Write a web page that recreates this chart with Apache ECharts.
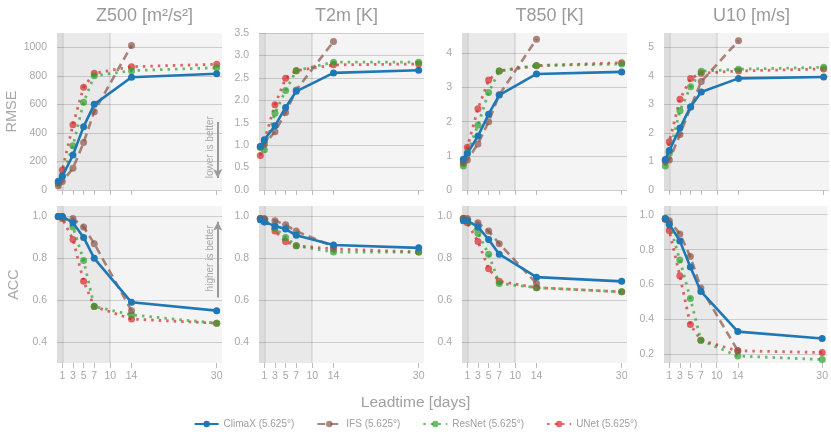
<!DOCTYPE html>
<html>
<head>
<meta charset="utf-8">
<script src="https://cdn.jsdelivr.net/npm/echarts@6/dist/echarts.min.js"></script>
<style>html,body{margin:0;padding:0;background:#fff;}#c{width:831px;height:438px;}</style>
</head>
<body>
<div id="c"></div>
<script>
// ---------- data ----------
const leadDays = [0.25, 1, 3, 5, 7, 14, 30];
const ifsDays = [0.25, 1, 3, 5, 7, 14];
const xTickValues = [1, 3, 5, 7, 10, 14, 30];
const panelTitles = ['Z500 [m²/s²]', 'T2m [K]', 'T850 [K]', 'U10 [m/s]'];
const modelNames = ['ClimaX (5.625°)', 'IFS (5.625°)', 'ResNet (5.625°)', 'UNet (5.625°)'];

// RMSE
const rmseZ500Climax = [62, 96, 245, 444, 600, 790, 815];
const rmseZ500Ifs = [30, 60, 152, 332, 549, 1012];
const rmseZ500Resnet = [45, 100, 310, 614, 800, 836, 857];
const rmseZ500Unet = [55, 140, 458, 720, 818, 864, 881];

const rmseT2mClimax = [0.97, 1.12, 1.43, 1.84, 2.20, 2.61, 2.67];
const rmseT2mIfs = [0.97, 1.02, 1.30, 1.73, 2.23, 3.31];
const rmseT2mResnet = [0.95, 0.90, 1.71, 2.22, 2.66, 2.85, 2.85];
const rmseT2mUnet = [0.77, 1.10, 1.90, 2.49, 2.66, 2.79, 2.81];

const rmseT850Climax = [0.90, 1.07, 1.58, 2.22, 2.78, 3.40, 3.46];
const rmseT850Ifs = [0.83, 0.88, 1.35, 2.00, 2.79, 4.42];
const rmseT850Resnet = [0.70, 1.09, 1.90, 2.86, 3.49, 3.65, 3.69];
const rmseT850Unet = [0.78, 1.25, 2.38, 3.22, 3.49, 3.64, 3.73];

const rmseU10Climax = [1.07, 1.38, 2.17, 2.92, 3.43, 3.91, 3.96];
const rmseU10Ifs = [1.00, 1.05, 1.94, 2.90, 3.80, 5.23];
const rmseU10Resnet = [0.84, 1.29, 2.78, 3.62, 4.16, 4.23, 4.30];
const rmseU10Unet = [1.03, 1.69, 3.18, 3.91, 4.09, 4.17, 4.24];

// ACC
const accZ500Climax = [1.0, 1.0, 0.97, 0.90, 0.80, 0.59, 0.55];
const accZ500Ifs = [1.0, 0.995, 0.99, 0.95, 0.87, 0.55];
const accZ500Resnet = [1.0, 1.0, 0.95, 0.79, 0.57, 0.53, 0.49];
const accZ500Unet = [1.0, 0.99, 0.89, 0.69, 0.57, 0.51, 0.49];

const accT2mClimax = [0.984, 0.973, 0.955, 0.94, 0.91, 0.864, 0.85];
const accT2mIfs = [0.99, 0.99, 0.98, 0.96, 0.93, 0.856];
const accT2mResnet = [0.99, 0.985, 0.945, 0.90, 0.86, 0.83, 0.83];
const accT2mUnet = [0.99, 0.98, 0.93, 0.88, 0.86, 0.845, 0.83];

const accT850Climax = [0.98, 0.98, 0.95, 0.89, 0.82, 0.71, 0.69];
const accT850Ifs = [0.99, 0.99, 0.97, 0.93, 0.87, 0.68];
const accT850Resnet = [0.99, 0.98, 0.92, 0.82, 0.68, 0.66, 0.64];
const accT850Unet = [0.99, 0.97, 0.88, 0.75, 0.69, 0.66, 0.64];

const accU10Climax = [0.977, 0.946, 0.85, 0.70, 0.56, 0.33, 0.29];
const accU10Ifs = [0.977, 0.966, 0.89, 0.76, 0.58, 0.22];
const accU10Resnet = [0.98, 0.95, 0.74, 0.52, 0.28, 0.19, 0.17];
const accU10Unet = [0.973, 0.91, 0.65, 0.37, 0.28, 0.22, 0.21];

// ---------- layout / styling ----------
const panelData = [
  [rmseZ500Climax, rmseZ500Ifs, rmseZ500Resnet, rmseZ500Unet],
  [rmseT2mClimax, rmseT2mIfs, rmseT2mResnet, rmseT2mUnet],
  [rmseT850Climax, rmseT850Ifs, rmseT850Resnet, rmseT850Unet],
  [rmseU10Climax, rmseU10Ifs, rmseU10Resnet, rmseU10Unet],
  [accZ500Climax, accZ500Ifs, accZ500Resnet, accZ500Unet],
  [accT2mClimax, accT2mIfs, accT2mResnet, accT2mUnet],
  [accT850Climax, accT850Ifs, accT850Resnet, accT850Unet],
  [accU10Climax, accU10Ifs, accU10Resnet, accU10Unet]
];
const yRanges = [
  {min: 0, max: 1100, interval: 200, dec: 0},
  {min: 0, max: 3.5, interval: 0.5, dec: 1},
  {min: 0, max: 4.6, interval: 1, dec: 0},
  {min: 0, max: 5.5, interval: 1, dec: 0},
  {min: 0.3, max: 1.05, split: 4, dec: 1},
  {min: 0.3, max: 1.05, split: 4, dec: 1},
  {min: 0.3, max: 1.05, split: 4, dec: 1},
  {min: 0.15, max: 1.05, split: 4, dec: 1}
];
const lefts = [57, 259, 462, 664];
const W = 165, H = 157;
const tops = [33, 206];
const FONT = 'Liberation Sans, Arial, sans-serif';
const GRAY = '#a8a8a8';

const styles = [
  {color: '#1f77b4', type: 'solid', width: 2.6, opacity: 1, z: 6},
  {color: '#8c564b', type: [8, 5], width: 2.6, opacity: 0.72, z: 5},
  {color: '#2ca02c', type: [2.5, 5], width: 2.8, opacity: 0.7, z: 4},
  {color: '#d62728', type: [2.5, 5], width: 2.8, opacity: 0.7, z: 3}
];

const grids = [], xAxes = [], yAxes = [], series = [];
for (let g = 0; g < 8; g++) {
  const col = g % 4, row = Math.floor(g / 4);
  grids.push({left: lefts[col], top: tops[row], width: W, height: H, show: true,
    backgroundColor: '#f4f4f4', borderWidth: 0, containLabel: false});
  xAxes.push({
    type: 'value', gridIndex: g, min: 0, max: 31,
    axisLine: {show: false},
    splitLine: {show: false},
    axisTick: {show: true, customValues: xTickValues, length: 5, lineStyle: {color: '#bdbdbd', width: 1}},
    axisLabel: {show: row === 1, customValues: xTickValues, color: GRAY, fontSize: 10.5, margin: 8, fontFamily: FONT}
  });
  const yr = yRanges[g];
  const ya = {
    type: 'value', gridIndex: g, min: yr.min, max: yr.max,
    axisLine: {show: false}, axisTick: {show: false},
    axisLabel: {color: GRAY, fontSize: 10.5, margin: 10, fontFamily: FONT,
      showMaxLabel: false, showMinLabel: row === 0,
      formatter: v => Number(v).toFixed(yr.dec)},
    splitLine: {show: true, showMaxLine: false, showMinLine: row === 0,
      lineStyle: {color: '#cdcdcd', width: 1}}
  };
  if (yr.interval) ya.interval = yr.interval; else ya.splitNumber = yr.split;
  if (g === 1) { ya.axisLabel.showMaxLabel = true; ya.splitLine.showMaxLine = true; }
  if (col === 0) {
    ya.name = row === 0 ? 'RMSE' : 'ACC';
    ya.nameLocation = 'middle';
    ya.nameGap = 36;
    ya.nameTextStyle = {color: GRAY, fontSize: 14.5, fontFamily: FONT};
  }
  yAxes.push(ya);

  // shaded lead-time bands and reference lines
  const band = {
    type: 'line', xAxisIndex: g, yAxisIndex: g, data: [], z: 1, silent: true,
    markArea: {silent: true, data: [
      [{xAxis: 0, itemStyle: {color: 'rgba(0,0,0,0.045)'}}, {xAxis: 10}],
      [{xAxis: 0, itemStyle: {color: 'rgba(0,0,0,0.055)'}}, {xAxis: 1}]
    ]},
    markLine: {silent: true, symbol: 'none', label: {show: false},
      lineStyle: {color: 'rgba(0,0,0,0.10)', width: 1.5, type: 'solid'},
      data: [{xAxis: 1}, {xAxis: 10}]}
  };
  if (g === 0) {
    band.markLine.data.push([
      {coord: [30.2, 476], symbol: 'none', lineStyle: {color: '#9a9a9a', width: 2}},
      {coord: [30.2, 84], symbol: 'arrow', symbolSize: [7, 9]}
    ]);
    band.markPoint = {silent: true, symbol: 'circle', symbolSize: 0,
      data: [{coord: [28.7, 300], label: {show: true, formatter: 'lower is better', rotate: 90,
        color: GRAY, fontSize: 10, fontFamily: FONT, position: 'inside'}}]};
  }
  if (g === 4) {
    band.markLine.data.push([
      {coord: [30.2, 0.613], symbol: 'none', lineStyle: {color: '#9a9a9a', width: 2}},
      {coord: [30.2, 0.975], symbol: 'arrow', symbolSize: [7, 9]}
    ]);
    band.markPoint = {silent: true, symbol: 'circle', symbolSize: 0,
      data: [{coord: [28.7, 0.80], label: {show: true, formatter: 'higher is better', rotate: 90,
        color: GRAY, fontSize: 10, fontFamily: FONT, position: 'inside'}}]};
  }
  series.push(band);

  for (let m = 0; m < 4; m++) {
    const vals = panelData[g][m];
    const days = m === 1 ? ifsDays : leadDays;
    const st = styles[m];
    series.push({
      type: 'line', name: modelNames[m], xAxisIndex: g, yAxisIndex: g, z: st.z,
      data: vals.map((v, i) => [days[i], v]),
      symbol: 'circle', symbolSize: 7, showSymbol: true,
      lineStyle: {color: st.color, width: st.width, type: st.type, opacity: st.opacity, cap: 'butt'},
      itemStyle: {color: st.color, opacity: st.opacity},
      emphasis: {disabled: true}
    });
  }
}

const titles = panelTitles.map((t, i) => ({
  text: t, left: lefts[i] + W / 2, top: 2, textAlign: 'center',
  textStyle: {color: '#9a9a9a', fontSize: 18, fontWeight: 'normal', fontFamily: FONT}
}));
titles.push({text: 'Leadtime [days]', left: 'center', top: 390,
  textStyle: {color: '#a0a0a0', fontSize: 15.5, fontWeight: 'normal', fontFamily: FONT}});

const chart = echarts.init(document.getElementById('c'), null, {renderer: 'canvas'});
chart.setOption({
  animation: false,
  backgroundColor: '#ffffff',
  title: titles,
  grid: grids,
  xAxis: xAxes,
  yAxis: yAxes,
  legend: {
    data: modelNames, bottom: 4, left: 'center', itemGap: 22, itemWidth: 24, itemHeight: 8,
    textStyle: {color: '#a0a0a0', fontSize: 10, fontFamily: FONT}
  },
  series: series
});
</script>
</body>
</html>
